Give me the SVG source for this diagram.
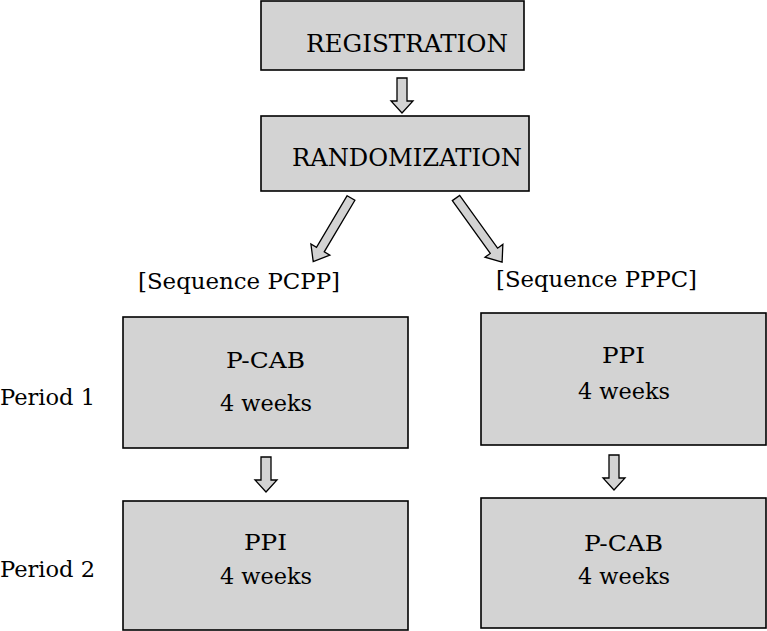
<svg xmlns="http://www.w3.org/2000/svg" width="767" height="631" viewBox="0 0 767 631">
<style>
.box{fill:#d3d3d3;stroke:#000;stroke-width:1.6}
.arr{fill:#d3d3d3;stroke:#000;stroke-width:1.3;stroke-linejoin:miter}
.t{font-size:25px}
.s{font-size:23px}
</style>
<rect width="767" height="631" fill="#fff"/>
<g font-family="'DejaVu Serif', 'Liberation Serif', serif" fill="#000">
<g id="registration">
<rect class="box" x="261" y="1" width="263" height="69"/>
<text class="t" x="306" y="52" textLength="202" lengthAdjust="spacingAndGlyphs">REGISTRATION</text>
</g>
<g id="randomization">
<rect class="box" x="261" y="116" width="268" height="75"/>
<text class="t" x="292" y="166" textLength="230" lengthAdjust="spacingAndGlyphs">RANDOMIZATION</text>
</g>
<g id="label-pcpp"><text class="s" x="138" y="289" textLength="202" lengthAdjust="spacingAndGlyphs">[Sequence PCPP]</text></g>
<g id="label-pppc"><text class="s" x="496" y="287" textLength="201" lengthAdjust="spacingAndGlyphs">[Sequence PPPC]</text></g>
<g id="period1"><text class="s" x="0" y="405" textLength="95" lengthAdjust="spacingAndGlyphs">Period 1</text></g>
<g id="period2"><text class="s" x="0" y="577" textLength="95" lengthAdjust="spacingAndGlyphs">Period 2</text></g>
<g id="left-p1">
<rect class="box" x="123" y="317" width="285" height="131"/>
<text class="s" x="226" y="368" textLength="79" lengthAdjust="spacingAndGlyphs">P-CAB</text>
<text class="s" x="220" y="411" textLength="92" lengthAdjust="spacingAndGlyphs">4 weeks</text>
</g>
<g id="left-p2">
<rect class="box" x="123" y="501" width="285" height="129"/>
<text class="s" x="244" y="550" textLength="43" lengthAdjust="spacingAndGlyphs">PPI</text>
<text class="s" x="220" y="584" textLength="92" lengthAdjust="spacingAndGlyphs">4 weeks</text>
</g>
<g id="right-p1">
<rect class="box" x="481" y="313" width="285" height="132"/>
<text class="s" x="602" y="363" textLength="43" lengthAdjust="spacingAndGlyphs">PPI</text>
<text class="s" x="578" y="399" textLength="92" lengthAdjust="spacingAndGlyphs">4 weeks</text>
</g>
<g id="right-p2">
<rect class="box" x="481" y="498" width="285" height="130"/>
<text class="s" x="584" y="551" textLength="79" lengthAdjust="spacingAndGlyphs">P-CAB</text>
<text class="s" x="578" y="584" textLength="92" lengthAdjust="spacingAndGlyphs">4 weeks</text>
</g>
</g>
<g id="connectors">
<polygon class="arr" transform="translate(402,78)" points="-5,0 5,0 5,23 11,23 0,35 -11,23 -5,23"/>
<polygon class="arr" transform="translate(351,198) rotate(30.7)" points="-4.5,0 4.5,0 4.5,60 11,60 0,74 -11,60 -4.5,60"/>
<polygon class="arr" transform="translate(456,198) rotate(-35.7)" points="-4.5,0 4.5,0 4.5,65 11,65 0,79 -11,65 -4.5,65"/>
<polygon class="arr" transform="translate(266,457)" points="-5,0 5,0 5,23 11,23 0,35 -11,23 -5,23"/>
<polygon class="arr" transform="translate(614,455)" points="-5,0 5,0 5,23 11,23 0,35 -11,23 -5,23"/>
</g>
</svg>
